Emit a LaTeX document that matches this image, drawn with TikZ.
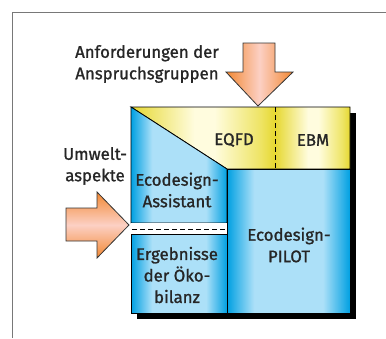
\documentclass[tikz,border=0pt]{standalone}
\usepackage{fontspec}
\setmainfont{Fira Sans}[FakeBold=1.2]
\definecolor{blaudunkel}{RGB}{0,160,226}
\definecolor{blauhell}{RGB}{172,224,248}
\definecolor{gelbdunkel}{RGB}{230,216,48}
\definecolor{gelbmittel}{RGB}{238,228,100}
\definecolor{gelbhell}{RGB}{255,252,222}
\definecolor{orangedunkel}{RGB}{242,136,50}
\definecolor{orangehell}{RGB}{252,208,196}
\definecolor{rahmen}{RGB}{120,120,120}
\pgfdeclarehorizontalshading{blauverlauf}{100bp}{color(0bp)=(blaudunkel); color(25bp)=(blaudunkel);
  color(36bp)=(blauhell); color(64bp)=(blauhell); color(75bp)=(blaudunkel); color(100bp)=(blaudunkel)}
\pgfdeclarehorizontalshading{gelbverlauf}{100bp}{color(0bp)=(gelbdunkel); color(25bp)=(gelbdunkel);
  color(47bp)=(gelbhell); color(54bp)=(gelbhell); color(70bp)=(gelbmittel); color(75bp)=(gelbdunkel); color(100bp)=(gelbdunkel)}

\begin{document}
\begin{tikzpicture}[x=1pt,y=-1pt,
  blau/.style={draw=black,line width=0.8pt,shading=blauverlauf},
  gelb/.style={shading=gelbverlauf},
  pfeil/.style={draw=black!80,line width=0.8pt,line join=miter},
  txt/.style={font=\fontsize{16.8}{21.5}\selectfont,align=center,text=black!85,inner sep=0pt}]

\useasboundingbox (0,0) rectangle (386,338);

\draw [rahmen, line width=1pt] (12,338) -- (12,12) -- (386,12);

% schatten
\fill [black] (137,113) rectangle (356,319);

% gelbes band
\shade [gelb] (131,107) -- (275,107) -- (275,169) -- (227,169) -- cycle;
\shade [gelb] (275,107) rectangle (350,169);
\draw [line width=0.8pt] (131,107) -- (350,107) -- (350,169) -- (227,169) -- cycle;
\draw [line width=0.8pt, dash pattern=on 5pt off 3pt] (275,107) -- (275,169);

% blaue bloecke
\shade [blau] (131,107) -- (227,169) -- (227,223) -- (131,223) -- cycle;
\shade [blau] (131,234) rectangle (227,313);
\shade [blau] (227,169) rectangle (350,313);
\fill [white] (131.4,223.4) rectangle (226.6,233.6);
\draw [line width=0.8pt, dash pattern=on 5pt off 3pt] (132,229) -- (227,229);

% pfeile
\shade [pfeil, left color=orangedunkel, right color=orangedunkel, middle color=orangehell]
  (243,43) -- (275,43) -- (275,72) -- (293,72) -- (258,106) -- (226,72) -- (243,72) -- cycle;
\shade [pfeil, top color=orangedunkel, bottom color=orangedunkel, middle color=orangehell]
  (66,208) -- (97,208) -- (97,192) -- (129,225) -- (97,258) -- (97,241) -- (66,241) -- cycle;

% beschriftung
\node (anf) at (147,64) [txt] {Anforderungen der\\Anspruchsgruppen};
\node (umw) at (95,166) [txt] {Umwelt-\\aspekte};
\node (eqfd) at (234,140) [txt] {EQFD};
\node (ebm) at (313,140) [txt] {EBM};
\node (assi) at (177,190) [txt] {Ecodesign-\\Assistant};
\node (oeko) at (177,275) [txt] {Ergebnisse\\der Öko-\\bilanz};
\node (pilot) at (289,245) [txt] {Ecodesign-\\PILOT};

\end{tikzpicture}
\end{document}
